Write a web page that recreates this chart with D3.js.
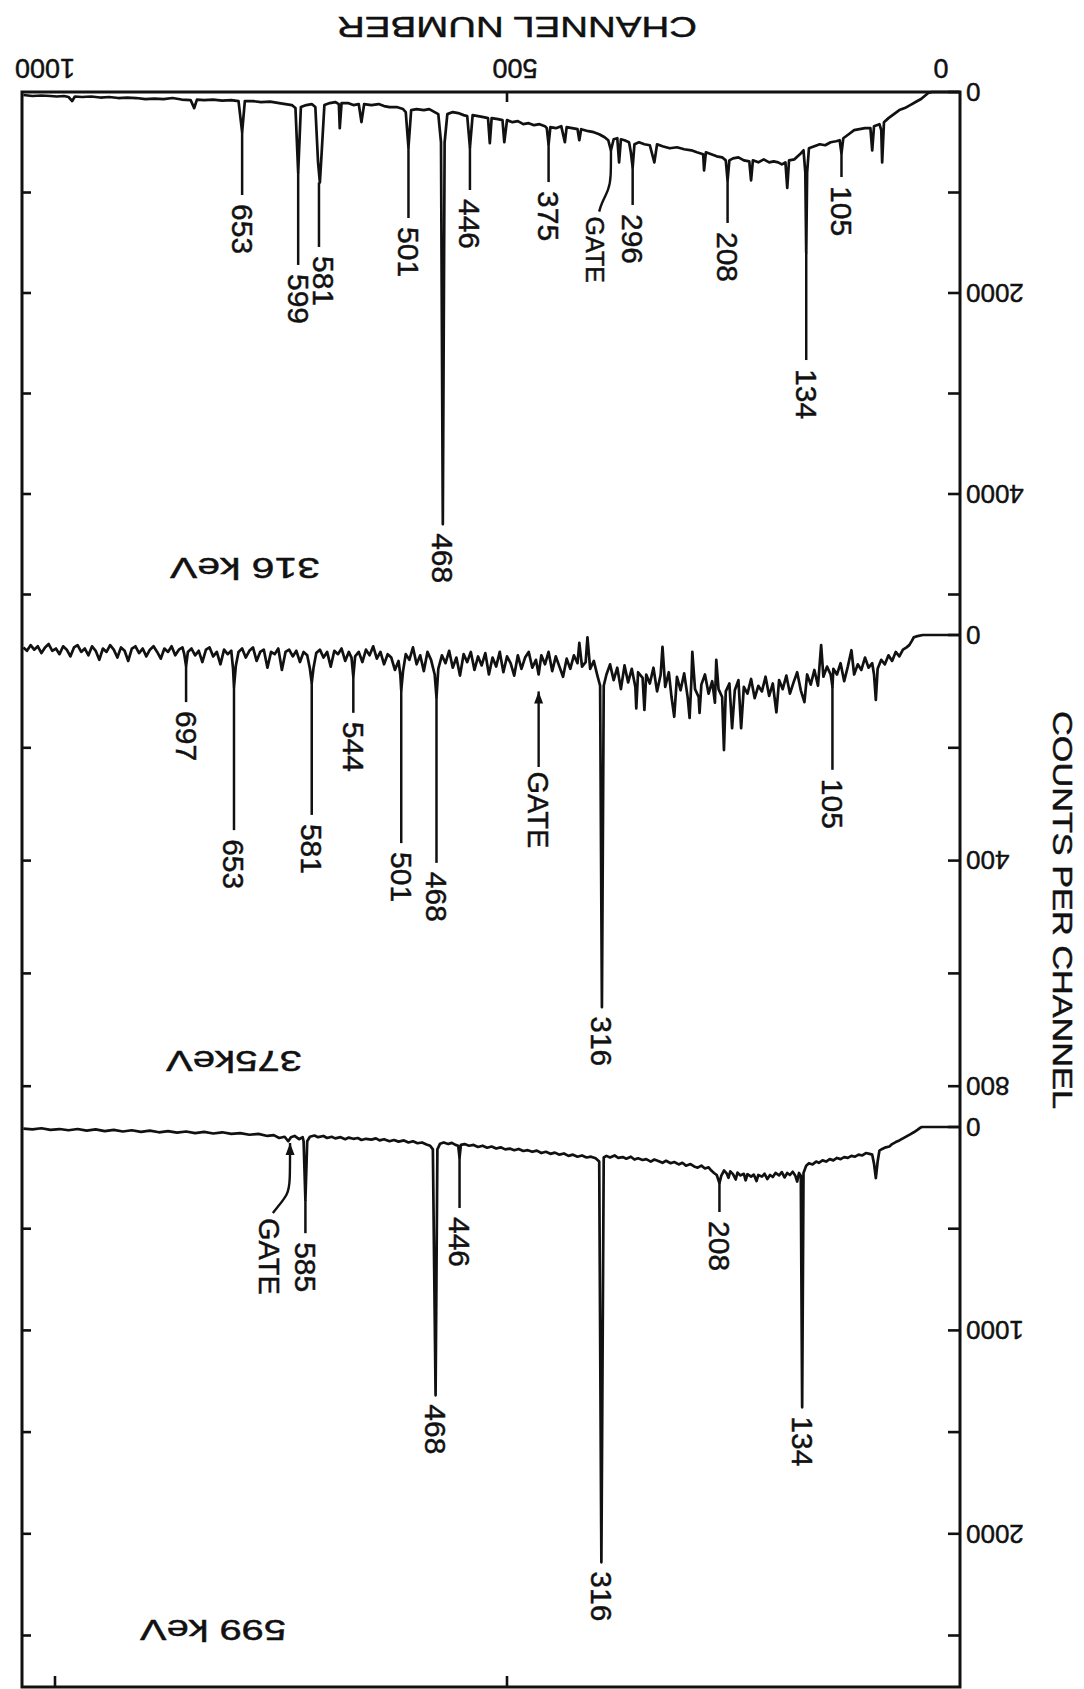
<!DOCTYPE html>
<html><head><meta charset="utf-8">
<script src="https://cdn.jsdelivr.net/npm/d3@7"></script>
<style>
html,body{margin:0;padding:0;background:#fff;}
svg{display:block;}
text{font-family:"Liberation Sans",Arial,sans-serif;fill:#111;stroke:#111;stroke-width:0.45px;}
</style></head><body>
<svg id="chart" width="1084" height="1689"></svg>
<script>
// ---------------- DATA ----------------
const xTitle = "CHANNEL NUMBER";
const yTitle = "COUNTS PER CHANNEL";
const channelTickValues = [1000, 500, 0];
const channelTickLabels = ["1000", "500", "0"];

// Panel 1 : gate 316 keV   [channel, counts]
const title316 = "316 keV";
const spectrum316 = [[1035,30],[1025,40],[1015,35],[1005,40],[998,45],[990,40],[985,50],[981,90],[978,45],[970,50],[960,45],[950,55],[940,50],[930,60],[920,55],[910,60],[900,70],[890,65],[880,70],[870,60],[860,75],[850,80],[846,160],[843,75],[835,80],[825,75],[815,85],[805,80],[797,90],[793,400],[790,90],[782,90],[772,100],[762,95],[752,110],[745,120],[738,130],[734,160],[731,800],[728,150],[722,130],[716,120],[712,150],[709,700],[707,900],[705,600],[702,130],[696,110],[690,100],[686,120],[685,360],[683,110],[676,110],[670,130],[664,120],[661,300],[658,120],[650,130],[642,120],[636,140],[630,150],[622,150],[615,170],[612,200],[609,550],[606,180],[600,170],[592,180],[586,170],[580,200],[576,220],[573,500],[571,4300],[569,500],[566,220],[560,200],[554,210],[548,230],[544,240],[541,550],[538,230],[532,240],[526,250],[521,260],[519,510],[517,260],[510,270],[505,280],[503,500],[500,280],[494,300],[488,290],[482,320],[476,310],[470,330],[464,320],[458,340],[456,360],[454,520],[452,350],[446,360],[440,340],[436,500],[434,350],[428,360],[422,370],[420,480],[418,370],[410,390],[404,400],[398,420],[392,450],[388,480],[385,580],[382,470],[378,460],[376,700],[374,470],[370,480],[365,500],[363,600],[361,750],[359,520],[354,500],[348,520],[342,530],[337,700],[334,520],[328,540],[320,560],[312,550],[304,570],[296,580],[290,600],[283,620],[282,780],[280,600],[274,620],[268,640],[262,650],[258,680],[256,880],[254,680],[250,660],[244,650],[238,680],[232,690],[230,880],[228,680],[222,700],[216,670],[210,700],[205,690],[200,700],[196,720],[192,700],[190,955],[188,680],[182,670],[176,620],[172,580],[170,800],[169,1600],[168,800],[166,560],[160,540],[154,520],[148,530],[142,500],[136,490],[132,480],[130,610],[128,460],[122,420],[116,380],[110,370],[104,360],[98,360],[96,580],[94,340],[88,320],[86,380],[85,700],[83,300],[78,260],[72,220],[66,180],[60,160],[54,130],[48,100],[42,70],[38,40],[34,10],[30,0],[0,0]];
// [label, channel, counts at peak tip, counts at end of leader]
const labels316 = [["653",793,400,1025],["599",731,800,1721],["581",708,900,1542],["501",609,550,1254],["468",571,4300,4300],["446",541,550,975],["375",454,520,896],["296",361,750,1124],["208",256,880,1303],["134",169,1600,2667],["105",130,610,846]];
const gate316 = [[385,580],[385,850],[387,960],[396,1120],[398,1190]];
const countTicks316 = [0,1000,2000,3000,4000,5000];
const countLabels316 = [0,2000,4000];

// Panel 2 : gate 375 keV
const title375 = "375keV";
const spectrum375 = [[1035,22],[1031,28],[1027,18],[1023,26],[1019,20],[1015,32],[1011,22],[1007,16],[1003,28],[999,24],[995,34],[991,20],[987,26],[983,38],[979,22],[975,18],[971,30],[967,24],[963,36],[959,20],[955,28],[951,44],[947,24],[943,30],[939,18],[935,26],[931,40],[927,22],[923,28],[919,46],[915,24],[911,20],[907,32],[903,24],[899,38],[895,26],[891,20],[887,30],[883,42],[879,24],[875,30],[871,20],[867,36],[863,26],[859,22],[857,34],[855,55],[853,30],[849,24],[845,36],[841,28],[837,48],[833,26],[829,22],[825,38],[821,30],[817,52],[813,26],[809,34],[805,28],[803,60],[802,92],[800,55],[797,30],[793,24],[789,40],[785,28],[781,22],[777,46],[773,30],[769,26],[765,58],[761,30],[757,34],[753,24],[749,62],[745,30],[741,26],[737,38],[733,28],[729,48],[725,30],[721,36],[718,60],[716,85],[714,58],[711,32],[707,26],[703,40],[699,30],[695,56],[691,28],[687,34],[683,24],[679,46],[675,30],[672,40],[670,74],[668,38],[664,30],[660,48],[656,26],[652,36],[648,20],[644,42],[640,30],[636,52],[632,34],[628,40],[624,62],[620,46],[618,70],[617,98],[615,64],[612,34],[608,44],[604,22],[600,52],[596,36],[592,64],[588,30],[584,44],[580,70],[578,110],[576,60],[572,36],[568,50],[564,28],[560,58],[556,40],[552,72],[548,34],[544,48],[540,30],[536,62],[532,38],[528,54],[524,32],[520,70],[516,40],[512,56],[508,30],[504,66],[500,38],[496,50],[492,72],[488,36],[484,60],[480,40],[476,30],[472,58],[468,44],[465,70],[462,36],[458,52],[454,30],[450,64],[446,38],[442,56],[438,74],[434,42],[430,60],[426,36],[422,50],[420,14],[417,56],[413,48],[411,4],[408,60],[404,46],[400,72],[397,90],[395,660],[393,90],[390,70],[386,52],[382,80],[378,58],[374,96],[370,54],[366,84],[362,60],[358,92],[357,130],[355,66],[350,76],[348,133],[346,70],[342,86],[338,58],[334,100],[330,70],[328,21],[325,92],[321,66],[318,110],[315,145],[312,74],[308,98],[304,68],[300,112],[298,147],[296,80],[295,30],[292,96],[288,110],[287,138],[285,88],[281,70],[277,104],[273,82],[270,120],[268.5,44],[266,96],[262,110],[260,204],[258,100],[254,86],[251,165],[248,98],[244,80],[241,165],[238,92],[234,104],[230,78],[226,112],[222,90],[218,100],[214,74],[210,108],[206,86],[202,137],[199,80],[195,96],[191,72],[187,104],[183,84],[179,66],[175,98],[171,119],[168,70],[164,88],[160,62],[156,90],[152.5,18],[150,74],[146,56],[142,70],[141,80],[140,92],[139,60],[135,70],[131,50],[127,82],[123,56],[119,27],[116,70],[112,52],[108,62],[104,40],[100,58],[96,50],[94,70],[92,115],[90,60],[86,44],[82,52],[78,36],[74,46],[70,30],[66,38],[62,26],[58,22],[55,18],[52,10],[50,4],[46,2],[40,0],[0,0]];
const labels375 = [["697",855,55,119],["653",802,92,346],["581",716,85,319],["544",670,74,138],["501",617,98,369],["468",578,110,404],["316",395,660,660],["105",140,92,239]];
const gate375 = [[465,100],[465,234]];
const countTicks375 = [0,200,400,600,800];
const countLabels375 = [0,400,800];

// Panel 3 : gate 599 keV
const title599 = "599 keV";
const spectrum599 = [[1035,8],[1025,12],[1015,6],[1005,14],[995,10],[985,16],[975,10],[965,18],[955,12],[945,20],[935,14],[925,22],[915,16],[905,24],[895,18],[885,26],[875,20],[865,28],[855,22],[845,30],[835,24],[825,32],[815,26],[805,34],[795,30],[785,38],[775,34],[765,44],[758,40],[752,54],[746,48],[742,70],[739,50],[735,44],[730,60],[726,50],[725,70],[723,359],[721,70],[718,48],[713,42],[709,50],[703,44],[699,54],[694,48],[690,56],[684,50],[679,60],[675,52],[670,58],[665,54],[661,64],[656,58],[650,62],[645,56],[641,66],[636,60],[630,70],[625,64],[620,72],[614,66],[609,76],[604,70],[599,80],[594,76],[589,86],[585,92],[582,110],[579,1319],[577,110],[574,82],[570,76],[565,84],[561,78],[557,88],[554,92],[552.5,150],[551,88],[547,84],[542,92],[537,88],[532,98],[527,92],[522,102],[517,96],[512,106],[507,100],[502,110],[497,106],[492,114],[487,108],[482,118],[477,114],[472,122],[467,116],[462,128],[457,122],[452,132],[447,126],[442,136],[437,130],[432,142],[427,136],[422,146],[417,140],[412,150],[407,146],[402,154],[398,170],[395.6,2140],[393,150],[390,142],[386,150],[381,140],[377,152],[372,148],[368,156],[363,146],[359,160],[355,154],[350,162],[346,158],[341,170],[337,160],[332,168],[328,176],[324,166],[319,178],[315,172],[310,184],[306,176],[302,190],[297,182],[293,194],[289,200],[285,190],[281,204],[277,198],[274,214],[271,226],[268,236],[265,276],[263,240],[260,214],[257,228],[255,250],[253,218],[250,232],[247,258],[245,224],[242,238],[238,230],[236,262],[234,232],[230,244],[227,234],[224,266],[222,236],[218,244],[215,230],[212,256],[209,236],[206,246],[203,226],[199,238],[196,222],[193,248],[190,226],[187,236],[184,220],[181,240],[179,268],[177,226],[175,240],[173.5,1378],[172,226],[169,190],[166,178],[162,184],[158,170],[155,176],[151,164],[147,170],[143,158],[139,164],[135,152],[131,158],[127,148],[123,152],[119,142],[115,146],[111,136],[107,140],[103,128],[99,132],[96,136],[94,180],[92,251],[90,170],[88,116],[85,108],[81,100],[77,96],[74,84],[70,74],[66,66],[62,56],[58,46],[54,36],[50,26],[46,14],[43,4],[41,0],[0,0]];
const labels599 = [["585",723,359,522],["468",579,1319,1319],["446",552.5,150,398],["316",395.6,2140,2140],["208",265,276,418],["134",173.5,1378,1378]];
const gate599 = [[740,79],[740,271],[742,330],[755,400],[759,423]];
const countTicks599 = [0,500,1000,1500,2000,2500];
const countLabels599 = [0,1000,2000];

// ---------------- LAYOUT ----------------
const svg = d3.select("#chart");
const FL = 22, FR = 960, FT = 92, FB = 1687;
const INK = "#111";
const x = d3.scaleLinear().domain([0, 1000]).range([959, 55]);
const channelLabelX = [45, 515, 941];
const labelShift = {"316|581": 5};

const panels = [
  {key:"316", title:title316, data:spectrum316, labels:labels316, gate:gate316, gateType:"curve", gateLabelCh:403, gateLabelCount:1240, gateFont:25,
   ticks:countTicks316, tickLabels:countLabels316, zero:92, k:0.1005, titlePos:[245,568], titleLen:150},
  {key:"375", title:title375, data:spectrum375, labels:labels375, gate:gate375, gateType:"arrow", gateLabelCh:465, gateLabelCount:242, gateFont:29,
   ticks:countTicks375, tickLabels:countLabels375, zero:635, k:0.564, titlePos:[234,1061], titleLen:136},
  {key:"599", title:title599, data:spectrum599, labels:labels599, gate:gate599, gateType:"curvearrow", gateLabelCh:763, gateLabelCount:447, gateFont:29,
   ticks:countTicks599, tickLabels:countLabels599, zero:1127, k:0.2034, titlePos:[213,1630], titleLen:146}
];

// frame
svg.append("rect").attr("x",FL).attr("y",FT).attr("width",FR-FL).attr("height",FB-FT)
  .attr("fill","none").attr("stroke",INK).attr("stroke-width",3);

// channel axis ticks (top: 500 ; bottom: 1000, 500)
svg.append("line").attr("x1",x(500)).attr("x2",x(500)).attr("y1",FT).attr("y2",FT+10)
  .attr("stroke",INK).attr("stroke-width",2.6);
[1000,500].forEach(v=>{
  svg.append("line").attr("x1",x(v)).attr("x2",x(v)).attr("y1",FB).attr("y2",FB-11)
    .attr("stroke",INK).attr("stroke-width",2.6);
});
channelTickValues.forEach((v,i)=>{
  svg.append("text").attr("transform",`translate(${channelLabelX[i]},68) rotate(180)`)
    .attr("text-anchor","middle").attr("dy","0.35em").attr("font-size",27)
    .text(channelTickLabels[i]);
});
svg.append("text").attr("transform",`translate(517,27) rotate(180)`)
  .attr("text-anchor","middle").attr("dy","0.35em").attr("font-size",29)
  .attr("textLength",360).attr("lengthAdjust","spacingAndGlyphs").text(xTitle);
svg.append("text").attr("transform",`translate(1063,711) rotate(90)`)
  .attr("text-anchor","start").attr("dy","0.35em").attr("font-size",28)
  .attr("textLength",398).attr("lengthAdjust","spacingAndGlyphs").text(yTitle);

panels.forEach(p=>{
  const maxT = d3.max(p.ticks);
  const y = d3.scaleLinear().domain([0,maxT]).range([p.zero, p.zero + maxT*p.k]);
  const g = svg.append("g");

  // right-axis ticks and left-axis ticks
  p.ticks.forEach(t=>{
    g.append("line").attr("x1",FR).attr("x2",FR-12).attr("y1",y(t)).attr("y2",y(t))
      .attr("stroke",INK).attr("stroke-width",2.6);
    if (t>0) g.append("line").attr("x1",FL).attr("x2",FL+9).attr("y1",y(t)).attr("y2",y(t))
      .attr("stroke",INK).attr("stroke-width",2.6);
  });
  p.tickLabels.forEach(t=>{
    g.append("text").attr("transform",`translate(${FR+6},${y(t)}) rotate(180)`)
      .attr("text-anchor","end").attr("dy","0.35em").attr("font-size",26).text(t);
  });

  // spectrum
  const line = d3.line().x(d=>x(d[0])).y(d=>y(d[1]));
  g.append("path").datum(p.data).attr("d",line).attr("fill","none")
    .attr("stroke",INK).attr("stroke-width",2.7).attr("stroke-linejoin","round");

  // peak leaders + labels
  p.labels.forEach(([lab,ch,tip,end])=>{
    if (end>tip) g.append("line").attr("x1",x(ch)).attr("x2",x(ch)).attr("y1",y(tip)).attr("y2",y(end))
      .attr("stroke",INK).attr("stroke-width",2.5);
    const sh = labelShift[p.key+"|"+lab] || 0;
    g.append("text").attr("transform",`translate(${x(ch)+sh},${y(end)+9}) rotate(90)`)
      .attr("text-anchor","start").attr("dy","0.35em").attr("font-size",30).text(lab);
  });

  // gate marker
  const gl = d3.line().x(d=>x(d[0])).y(d=>y(d[1])).curve(d3.curveBasis);
  g.append("path").datum(p.gate).attr("d",gl).attr("fill","none")
    .attr("stroke",INK).attr("stroke-width",2.4);
  if (p.gateType!=="curve") {
    const gx = x(p.gate[0][0]), gy = y(p.gate[0][1]);
    g.append("path").attr("d",`M${gx},${gy} L${gx-4.5},${gy+12} L${gx+4.5},${gy+12} Z`).attr("fill",INK);
  }
  g.append("text").attr("transform",`translate(${x(p.gateLabelCh)},${y(p.gateLabelCount)}) rotate(90)`)
    .attr("text-anchor","start").attr("dy","0.35em").attr("font-size",p.gateFont).text("GATE");

  // panel title (upside down)
  g.append("text").attr("transform",`translate(${p.titlePos[0]},${p.titlePos[1]}) rotate(180)`)
    .attr("text-anchor","middle").attr("dy","0.35em").attr("font-size",29)
    .attr("textLength",p.titleLen).attr("lengthAdjust","spacingAndGlyphs").text(p.title);
});
</script>
</body></html>
